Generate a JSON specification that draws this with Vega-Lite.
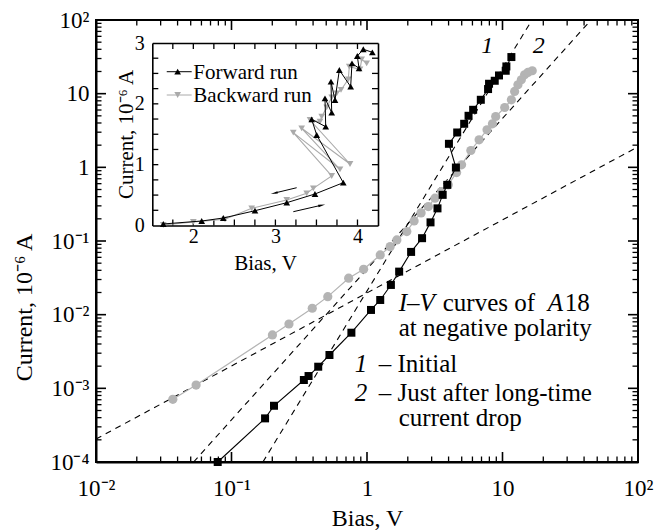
{
  "$schema": "https://vega.github.io/schema/vega-lite/v6.json",
  "width": 542,
  "height": 442,
  "autosize": "none",
  "padding": {"left": 96, "top": 20, "right": 21, "bottom": 70},
  "background": "white",
  "config": {
    "font": "Liberation Serif",
    "view": {"stroke": "black", "strokeWidth": 2},
    "axis": {"labelFont": "Liberation Serif", "titleFont": "Liberation Serif", "grid": false}
  },
  "datasets": {
    "xmaj": [{"v": 0.01}, {"v": 0.1}, {"v": 1}, {"v": 10}, {"v": 100}],
    "xmin": [{"v": 0.02}, {"v": 0.03}, {"v": 0.04}, {"v": 0.05}, {"v": 0.06}, {"v": 0.07}, {"v": 0.08}, {"v": 0.09},
             {"v": 0.2}, {"v": 0.3}, {"v": 0.4}, {"v": 0.5}, {"v": 0.6}, {"v": 0.7}, {"v": 0.8}, {"v": 0.9},
             {"v": 2}, {"v": 3}, {"v": 4}, {"v": 5}, {"v": 6}, {"v": 7}, {"v": 8}, {"v": 9},
             {"v": 20}, {"v": 30}, {"v": 40}, {"v": 50}, {"v": 60}, {"v": 70}, {"v": 80}, {"v": 90}],
    "ymaj": [{"v": 0.0001}, {"v": 0.001}, {"v": 0.01}, {"v": 0.1}, {"v": 1}, {"v": 10}, {"v": 100}],
    "ymin": [{"v": 0.0002}, {"v": 0.0003}, {"v": 0.0004}, {"v": 0.0005}, {"v": 0.0006}, {"v": 0.0007}, {"v": 0.0008}, {"v": 0.0009},
             {"v": 0.002}, {"v": 0.003}, {"v": 0.004}, {"v": 0.005}, {"v": 0.006}, {"v": 0.007}, {"v": 0.008}, {"v": 0.009},
             {"v": 0.02}, {"v": 0.03}, {"v": 0.04}, {"v": 0.05}, {"v": 0.06}, {"v": 0.07}, {"v": 0.08}, {"v": 0.09},
             {"v": 0.2}, {"v": 0.3}, {"v": 0.4}, {"v": 0.5}, {"v": 0.6}, {"v": 0.7}, {"v": 0.8}, {"v": 0.9},
             {"v": 2}, {"v": 3}, {"v": 4}, {"v": 5}, {"v": 6}, {"v": 7}, {"v": 8}, {"v": 9},
             {"v": 20}, {"v": 30}, {"v": 40}, {"v": 50}, {"v": 60}, {"v": 70}, {"v": 80}, {"v": 90}],
    "ixt": [{"v": 1.75}, {"v": 2}, {"v": 2.25}, {"v": 2.5}, {"v": 2.75}, {"v": 3}, {"v": 3.25}, {"v": 3.5}, {"v": 3.75}, {"v": 4}],
    "iyt": [{"v": 0.25}, {"v": 0.5}, {"v": 0.75}, {"v": 1}, {"v": 1.25}, {"v": 1.5}, {"v": 1.75}, {"v": 2}, {"v": 2.25}, {"v": 2.5}, {"v": 2.75}],
    "fits": [
      {"fit": "a", "bias": 0.01, "current": 0.000205}, {"fit": "a", "bias": 100, "current": 1.9},
      {"fit": "1", "bias": 0.1705, "current": 0.0001}, {"fit": "1", "bias": 16.5, "current": 100},
      {"fit": "2", "bias": 0.0525, "current": 0.0001}, {"fit": "2", "bias": 45, "current": 100}
    ],
    "initial": [
      {"bias": 0.0791, "current": 0.0001}, {"bias": 0.1769, "current": 0.000391}, {"bias": 0.2059, "current": 0.00058},
      {"bias": 0.342, "current": 0.001297}, {"bias": 0.3704, "current": 0.001469}, {"bias": 0.4365, "current": 0.001966},
      {"bias": 0.5284, "current": 0.002835}, {"bias": 0.767, "current": 0.00569}, {"bias": 1.07, "current": 0.01159},
      {"bias": 1.252, "current": 0.01583}, {"bias": 1.501, "current": 0.02532}, {"bias": 1.727, "current": 0.0384},
      {"bias": 2.116, "current": 0.0711}, {"bias": 2.549, "current": 0.1092}, {"bias": 2.943, "current": 0.179},
      {"bias": 3.313, "current": 0.2773}, {"bias": 3.618, "current": 0.423}, {"bias": 3.91, "current": 0.578},
      {"bias": 4.53, "current": 0.994}, {"bias": 4.024, "current": 2.086}, {"bias": 4.631, "current": 2.971},
      {"bias": 5.214, "current": 3.9}, {"bias": 5.616, "current": 5.008}, {"bias": 6.073, "current": 6.04},
      {"bias": 6.917, "current": 8.26}, {"bias": 7.825, "current": 11.55}, {"bias": 7.957, "current": 13.63},
      {"bias": 8.764, "current": 14.97}, {"bias": 9.425, "current": 17.67}, {"bias": 10.56, "current": 20.47},
      {"bias": 10.68, "current": 23.42}, {"bias": 11.63, "current": 31.4}
    ],
    "afterdrop": [
      {"bias": 0.0369, "current": 0.000709}, {"bias": 0.0548, "current": 0.001109}, {"bias": 0.2004, "current": 0.0053},
      {"bias": 0.2655, "current": 0.00747}, {"bias": 0.3945, "current": 0.01222}, {"bias": 0.5134, "current": 0.01757},
      {"bias": 0.7322, "current": 0.03124}, {"bias": 0.944, "current": 0.04137}, {"bias": 1.252, "current": 0.0647},
      {"bias": 1.483, "current": 0.0839}, {"bias": 1.661, "current": 0.1035}, {"bias": 1.967, "current": 0.1342},
      {"bias": 2.226, "current": 0.1875}, {"bias": 2.506, "current": 0.2408}, {"bias": 2.836, "current": 0.2934},
      {"bias": 3.175, "current": 0.3815}, {"bias": 3.557, "current": 0.469}, {"bias": 3.978, "current": 0.578},
      {"bias": 4.584, "current": 0.85}, {"bias": 4.989, "current": 1.081}, {"bias": 5.84, "current": 1.692},
      {"bias": 6.72, "current": 2.364}, {"bias": 7.69, "current": 3.232}, {"bias": 8.43, "current": 3.9},
      {"bias": 8.91, "current": 4.9}, {"bias": 10.38, "current": 6.49}, {"bias": 11.63, "current": 8.26},
      {"bias": 12.29, "current": 10.71}, {"bias": 13.0, "current": 13.21}, {"bias": 13.77, "current": 15.45},
      {"bias": 14.56, "current": 18.06}, {"bias": 15.4, "current": 19.41}, {"bias": 16.58, "current": 20.47}
    ],
    "forward": [
      {"bias": 1.634, "current": 0.025}, {"bias": 2.102, "current": 0.074}, {"bias": 2.365, "current": 0.123},
      {"bias": 2.751, "current": 0.243}, {"bias": 3.138, "current": 0.375}, {"bias": 3.482, "current": 0.518},
      {"bias": 3.827, "current": 0.704}, {"bias": 3.503, "current": 1.488}, {"bias": 3.442, "current": 1.746},
      {"bias": 3.613, "current": 1.624}, {"bias": 3.604, "current": 2.091}, {"bias": 3.686, "current": 1.854},
      {"bias": 3.677, "current": 2.364}, {"bias": 3.726, "current": 2.063}, {"bias": 3.779, "current": 2.556},
      {"bias": 3.917, "current": 2.282}, {"bias": 3.933, "current": 2.666}, {"bias": 4.019, "current": 2.584},
      {"bias": 3.998, "current": 2.786}, {"bias": 4.071, "current": 2.897}, {"bias": 4.181, "current": 2.847}
    ],
    "backward": [
      {"bias": 4.112, "current": 2.666}, {"bias": 4.051, "current": 2.732}, {"bias": 4.031, "current": 2.568},
      {"bias": 3.9, "current": 2.611}, {"bias": 3.888, "current": 2.403}, {"bias": 3.799, "current": 2.228},
      {"bias": 3.747, "current": 2.173}, {"bias": 3.686, "current": 2.107}, {"bias": 3.625, "current": 1.943},
      {"bias": 3.564, "current": 1.789}, {"bias": 3.543, "current": 1.706}, {"bias": 3.422, "current": 1.734},
      {"bias": 3.909, "current": 1.011}, {"bias": 3.32, "current": 1.598}, {"bias": 3.787, "current": 0.924},
      {"bias": 3.218, "current": 1.526}, {"bias": 3.686, "current": 0.814}, {"bias": 3.462, "current": 0.611},
      {"bias": 3.381, "current": 0.529}, {"bias": 3.138, "current": 0.419}, {"bias": 2.711, "current": 0.283},
      {"bias": 2.386, "current": 0.102}, {"bias": 2.0, "current": 0.058}, {"bias": 1.634, "current": 0.008}
    ],
    "one": [{}]
  },
  "layer": [
    {
      "data": {"name": "xmaj"},
      "mark": {"type": "tick", "orient": "vertical", "clip": true, "color": "black", "thickness": 1.6, "size": 20, "opacity": 1},
      "encoding": {"x": {"field": "v", "type": "quantitative", "scale": {"type": "log", "domain": [0.01, 100], "nice": false}, "axis": null}, "y": {"datum": 0.0001, "type": "quantitative", "scale": {"type": "log", "domain": [0.0001, 100], "nice": false}, "axis": null}}
    },
    {
      "data": {"name": "xmaj"},
      "mark": {"type": "tick", "orient": "vertical", "clip": true, "color": "black", "thickness": 1.6, "size": 20, "opacity": 1},
      "encoding": {"x": {"field": "v", "type": "quantitative", "scale": {"type": "log", "domain": [0.01, 100], "nice": false}, "axis": null}, "y": {"datum": 100, "type": "quantitative", "scale": {"type": "log", "domain": [0.0001, 100], "nice": false}, "axis": null}}
    },
    {
      "data": {"name": "xmin"},
      "mark": {"type": "tick", "orient": "vertical", "clip": true, "color": "black", "thickness": 1.3, "size": 11, "opacity": 1},
      "encoding": {"x": {"field": "v", "type": "quantitative", "scale": {"type": "log", "domain": [0.01, 100], "nice": false}, "axis": null}, "y": {"datum": 0.0001, "type": "quantitative", "scale": {"type": "log", "domain": [0.0001, 100], "nice": false}, "axis": null}}
    },
    {
      "data": {"name": "xmin"},
      "mark": {"type": "tick", "orient": "vertical", "clip": true, "color": "black", "thickness": 1.3, "size": 11, "opacity": 1},
      "encoding": {"x": {"field": "v", "type": "quantitative", "scale": {"type": "log", "domain": [0.01, 100], "nice": false}, "axis": null}, "y": {"datum": 100, "type": "quantitative", "scale": {"type": "log", "domain": [0.0001, 100], "nice": false}, "axis": null}}
    },
    {
      "data": {"name": "ymaj"},
      "mark": {"type": "tick", "orient": "horizontal", "clip": true, "color": "black", "thickness": 1.6, "size": 20, "opacity": 1},
      "encoding": {"y": {"field": "v", "type": "quantitative", "scale": {"type": "log", "domain": [0.0001, 100], "nice": false}, "axis": null}, "x": {"datum": 0.01, "type": "quantitative", "scale": {"type": "log", "domain": [0.01, 100], "nice": false}, "axis": null}}
    },
    {
      "data": {"name": "ymaj"},
      "mark": {"type": "tick", "orient": "horizontal", "clip": true, "color": "black", "thickness": 1.6, "size": 20, "opacity": 1},
      "encoding": {"y": {"field": "v", "type": "quantitative", "scale": {"type": "log", "domain": [0.0001, 100], "nice": false}, "axis": null}, "x": {"datum": 100, "type": "quantitative", "scale": {"type": "log", "domain": [0.01, 100], "nice": false}, "axis": null}}
    },
    {
      "data": {"name": "ymin"},
      "mark": {"type": "tick", "orient": "horizontal", "clip": true, "color": "black", "thickness": 1.3, "size": 11, "opacity": 1},
      "encoding": {"y": {"field": "v", "type": "quantitative", "scale": {"type": "log", "domain": [0.0001, 100], "nice": false}, "axis": null}, "x": {"datum": 0.01, "type": "quantitative", "scale": {"type": "log", "domain": [0.01, 100], "nice": false}, "axis": null}}
    },
    {
      "data": {"name": "ymin"},
      "mark": {"type": "tick", "orient": "horizontal", "clip": true, "color": "black", "thickness": 1.3, "size": 11, "opacity": 1},
      "encoding": {"y": {"field": "v", "type": "quantitative", "scale": {"type": "log", "domain": [0.0001, 100], "nice": false}, "axis": null}, "x": {"datum": 100, "type": "quantitative", "scale": {"type": "log", "domain": [0.01, 100], "nice": false}, "axis": null}}
    },
    {
      "data": {"name": "fits"},
      "mark": {"type": "line", "color": "black", "strokeWidth": 1.1, "strokeDash": [6, 5]},
      "encoding": {
        "x": {"field": "bias", "type": "quantitative", "scale": {"type": "log", "domain": [0.01, 100], "nice": false},
          "axis": {"orient": "bottom", "values": [0.01, 0.1, 1, 10, 100], "ticks": false, "domainColor": "black", "domainWidth": 2,
            "labelFontSize": 23, "labelColor": "black", "labelBaseline": "alphabetic", "labelPadding": 33, "labelFlush": false, "labelOverlap": false,
            "labelExpr": "datum.value < 0.05 ? '10⁻²' : datum.value < 0.5 ? '10⁻¹' : datum.value < 5 ? '1' : datum.value < 50 ? '10' : '10²'",
            "title": "Bias, V", "titleColor": "black", "titleFontWeight": "normal", "titleFontSize": 24, "titleX": 271, "titleY": 63, "titleBaseline": "alphabetic"}},
        "y": {"field": "current", "type": "quantitative", "scale": {"type": "log", "domain": [0.0001, 100], "nice": false},
          "axis": {"orient": "left", "values": [0.0001, 0.001, 0.01, 0.1, 1, 10, 100], "ticks": false, "domainColor": "black", "domainWidth": 2,
            "labelFontSize": 23, "labelColor": "black", "labelBaseline": "middle", "labelPadding": 7, "labelFlush": false, "labelOverlap": false,
            "labelExpr": "datum.value < 0.0005 ? '10⁻⁴' : datum.value < 0.005 ? '10⁻³' : datum.value < 0.05 ? '10⁻²' : datum.value < 0.5 ? '10⁻¹' : datum.value < 5 ? '1' : datum.value < 50 ? '10' : '10²'",
            "title": "Current, 10⁻⁶ A", "titleColor": "black", "titleFontWeight": "normal", "titleFontSize": 24, "titleX": -65, "titleY": 287, "titleBaseline": "alphabetic"}},
        "detail": {"field": "fit"}
      }
    },
    {
      "data": {"name": "afterdrop"},
      "mark": {"type": "line", "color": "#b4b4b4", "strokeWidth": 1.2},
      "encoding": {
        "x": {"field": "bias", "type": "quantitative", "scale": {"type": "log", "domain": [0.01, 100], "nice": false}, "axis": null},
        "y": {"field": "current", "type": "quantitative", "scale": {"type": "log", "domain": [0.0001, 100], "nice": false}, "axis": null},
        "order": {"value": null}
      }
    },
    {
      "data": {"name": "afterdrop"},
      "mark": {"type": "point", "shape": "circle", "filled": true, "color": "#b4b4b4", "opacity": 1, "size": 85},
      "encoding": {
        "x": {"field": "bias", "type": "quantitative", "scale": {"type": "log", "domain": [0.01, 100], "nice": false}, "axis": null},
        "y": {"field": "current", "type": "quantitative", "scale": {"type": "log", "domain": [0.0001, 100], "nice": false}, "axis": null}
      }
    },
    {
      "data": {"name": "initial"},
      "mark": {"type": "line", "color": "black", "strokeWidth": 1.1},
      "encoding": {
        "x": {"field": "bias", "type": "quantitative", "scale": {"type": "log", "domain": [0.01, 100], "nice": false}, "axis": null},
        "y": {"field": "current", "type": "quantitative", "scale": {"type": "log", "domain": [0.0001, 100], "nice": false}, "axis": null},
        "order": {"value": null}
      }
    },
    {
      "data": {"name": "initial"},
      "mark": {"type": "point", "shape": "square", "filled": true, "color": "black", "opacity": 1, "size": 64},
      "encoding": {
        "x": {"field": "bias", "type": "quantitative", "scale": {"type": "log", "domain": [0.01, 100], "nice": false}, "axis": null},
        "y": {"field": "current", "type": "quantitative", "scale": {"type": "log", "domain": [0.0001, 100], "nice": false}, "axis": null}
      }
    },
    {
      "data": {"name": "one"},
      "mark": {"type": "text", "text": "1", "font": "Liberation Serif", "fontStyle": "italic", "fontSize": 24, "align": "center", "baseline": "alphabetic", "color": "black"},
      "encoding": {"x": {"datum": 7.71, "type": "quantitative", "scale": {"type": "log", "domain": [0.01, 100], "nice": false}, "axis": null}, "y": {"datum": 35.6, "type": "quantitative", "scale": {"type": "log", "domain": [0.0001, 100], "nice": false}, "axis": null}}
    },
    {
      "data": {"name": "one"},
      "mark": {"type": "text", "text": "2", "font": "Liberation Serif", "fontStyle": "italic", "fontSize": 24, "align": "center", "baseline": "alphabetic", "color": "black"},
      "encoding": {"x": {"datum": 18.49, "type": "quantitative", "scale": {"type": "log", "domain": [0.01, 100], "nice": false}, "axis": null}, "y": {"datum": 35.6, "type": "quantitative", "scale": {"type": "log", "domain": [0.0001, 100], "nice": false}, "axis": null}}
    },
    {
      "data": {"name": "one"},
      "mark": {"type": "text", "text": "I–V", "font": "Liberation Serif", "fontStyle": "italic", "fontSize": 25, "align": "left", "baseline": "alphabetic", "color": "black"},
      "encoding": {"x": {"datum": 1.716, "type": "quantitative", "scale": {"type": "log", "domain": [0.01, 100], "nice": false}, "axis": null}, "y": {"datum": 0.01112, "type": "quantitative", "scale": {"type": "log", "domain": [0.0001, 100], "nice": false}, "axis": null}}
    },
    {
      "data": {"name": "one"},
      "mark": {"type": "text", "text": "curves of", "font": "Liberation Serif", "fontSize": 25, "align": "left", "baseline": "alphabetic", "color": "black"},
      "encoding": {"x": {"datum": 3.622, "type": "quantitative", "scale": {"type": "log", "domain": [0.01, 100], "nice": false}, "axis": null}, "y": {"datum": 0.01112, "type": "quantitative", "scale": {"type": "log", "domain": [0.0001, 100], "nice": false}, "axis": null}}
    },
    {
      "data": {"name": "one"},
      "mark": {"type": "text", "text": "A", "font": "Liberation Serif", "fontStyle": "italic", "fontSize": 25, "align": "left", "baseline": "alphabetic", "color": "black"},
      "encoding": {"x": {"datum": 21.54, "type": "quantitative", "scale": {"type": "log", "domain": [0.01, 100], "nice": false}, "axis": null}, "y": {"datum": 0.01112, "type": "quantitative", "scale": {"type": "log", "domain": [0.0001, 100], "nice": false}, "axis": null}}
    },
    {
      "data": {"name": "one"},
      "mark": {"type": "text", "text": "18", "font": "Liberation Serif", "fontSize": 25, "align": "left", "baseline": "alphabetic", "color": "black"},
      "encoding": {"x": {"datum": 28.75, "type": "quantitative", "scale": {"type": "log", "domain": [0.01, 100], "nice": false}, "axis": null}, "y": {"datum": 0.01112, "type": "quantitative", "scale": {"type": "log", "domain": [0.0001, 100], "nice": false}, "axis": null}}
    },
    {
      "data": {"name": "one"},
      "mark": {"type": "text", "text": "at negative polarity", "font": "Liberation Serif", "fontSize": 25, "align": "left", "baseline": "alphabetic", "color": "black"},
      "encoding": {"x": {"datum": 1.716, "type": "quantitative", "scale": {"type": "log", "domain": [0.01, 100], "nice": false}, "axis": null}, "y": {"datum": 0.005087, "type": "quantitative", "scale": {"type": "log", "domain": [0.0001, 100], "nice": false}, "axis": null}}
    },
    {
      "data": {"name": "one"},
      "mark": {"type": "text", "text": "1", "font": "Liberation Serif", "fontStyle": "italic", "fontSize": 25, "align": "left", "baseline": "alphabetic", "color": "black"},
      "encoding": {"x": {"datum": 0.8128, "type": "quantitative", "scale": {"type": "log", "domain": [0.01, 100], "nice": false}, "axis": null}, "y": {"datum": 0.00165, "type": "quantitative", "scale": {"type": "log", "domain": [0.0001, 100], "nice": false}, "axis": null}}
    },
    {
      "data": {"name": "one"},
      "mark": {"type": "text", "text": "– Initial", "font": "Liberation Serif", "fontSize": 25, "align": "left", "baseline": "alphabetic", "color": "black"},
      "encoding": {"x": {"datum": 1.222, "type": "quantitative", "scale": {"type": "log", "domain": [0.01, 100], "nice": false}, "axis": null}, "y": {"datum": 0.00165, "type": "quantitative", "scale": {"type": "log", "domain": [0.0001, 100], "nice": false}, "axis": null}}
    },
    {
      "data": {"name": "one"},
      "mark": {"type": "text", "text": "2", "font": "Liberation Serif", "fontStyle": "italic", "fontSize": 25, "align": "left", "baseline": "alphabetic", "color": "black"},
      "encoding": {"x": {"datum": 0.8128, "type": "quantitative", "scale": {"type": "log", "domain": [0.01, 100], "nice": false}, "axis": null}, "y": {"datum": 0.000666, "type": "quantitative", "scale": {"type": "log", "domain": [0.0001, 100], "nice": false}, "axis": null}}
    },
    {
      "data": {"name": "one"},
      "mark": {"type": "text", "text": "– Just after long-time", "font": "Liberation Serif", "fontSize": 25, "align": "left", "baseline": "alphabetic", "color": "black"},
      "encoding": {"x": {"datum": 1.222, "type": "quantitative", "scale": {"type": "log", "domain": [0.01, 100], "nice": false}, "axis": null}, "y": {"datum": 0.000666, "type": "quantitative", "scale": {"type": "log", "domain": [0.0001, 100], "nice": false}, "axis": null}}
    },
    {
      "data": {"name": "one"},
      "mark": {"type": "text", "text": "current drop", "font": "Liberation Serif", "fontSize": 25, "align": "left", "baseline": "alphabetic", "color": "black"},
      "encoding": {"x": {"datum": 1.716, "type": "quantitative", "scale": {"type": "log", "domain": [0.01, 100], "nice": false}, "axis": null}, "y": {"datum": 0.00031, "type": "quantitative", "scale": {"type": "log", "domain": [0.0001, 100], "nice": false}, "axis": null}}
    },
    {
      "data": {"name": "ixt"},
      "mark": {"type": "tick", "orient": "vertical", "color": "black", "thickness": 1.3, "size": 6, "opacity": 1},
      "encoding": {"x": {"field": "v", "type": "quantitative", "scale": {"domain": [1.5, 4.25], "range": [56.3, 282], "nice": false, "zero": false}, "axis": null}, "y": {"datum": 0.0493, "type": "quantitative", "scale": {"domain": [0, 3], "range": [205.5, 23], "nice": false, "zero": false}, "axis": null}}
    },
    {
      "data": {"name": "ixt"},
      "mark": {"type": "tick", "orient": "vertical", "color": "black", "thickness": 1.3, "size": 6, "opacity": 1},
      "encoding": {"x": {"field": "v", "type": "quantitative", "scale": {"domain": [1.5, 4.25], "range": [56.3, 282], "nice": false, "zero": false}, "axis": null}, "y": {"datum": 2.9507, "type": "quantitative", "scale": {"domain": [0, 3], "range": [205.5, 23], "nice": false, "zero": false}, "axis": null}}
    },
    {
      "data": {"name": "iyt"},
      "mark": {"type": "tick", "orient": "horizontal", "color": "black", "thickness": 1.3, "size": 6, "opacity": 1},
      "encoding": {"y": {"field": "v", "type": "quantitative", "scale": {"domain": [0, 3], "range": [205.5, 23], "nice": false, "zero": false}, "axis": null}, "x": {"datum": 1.5366, "type": "quantitative", "scale": {"domain": [1.5, 4.25], "range": [56.3, 282], "nice": false, "zero": false}, "axis": null}}
    },
    {
      "data": {"name": "iyt"},
      "mark": {"type": "tick", "orient": "horizontal", "color": "black", "thickness": 1.3, "size": 6, "opacity": 1},
      "encoding": {"y": {"field": "v", "type": "quantitative", "scale": {"domain": [0, 3], "range": [205.5, 23], "nice": false, "zero": false}, "axis": null}, "x": {"datum": 4.2134, "type": "quantitative", "scale": {"domain": [1.5, 4.25], "range": [56.3, 282], "nice": false, "zero": false}, "axis": null}}
    },
    {
      "data": {"name": "backward"},
      "mark": {"type": "line", "color": "#aaaaaa", "strokeWidth": 1.1},
      "encoding": {
        "x": {"field": "bias", "type": "quantitative", "scale": {"domain": [1.5, 4.25], "range": [56.3, 282], "nice": false, "zero": false},
          "axis": {"orient": "top", "offset": -23, "ticks": false, "domainColor": "black", "domainWidth": 1.6, "labels": false, "title": null}},
        "y": {"field": "current", "type": "quantitative", "scale": {"domain": [0, 3], "range": [205.5, 23], "nice": false, "zero": false},
          "axis": {"orient": "right", "offset": -260, "ticks": false, "domainColor": "black", "domainWidth": 1.6, "labels": false, "title": null}},
        "order": {"value": null}
      }
    },
    {
      "data": {"name": "backward"},
      "mark": {"type": "point", "shape": "triangle-down", "filled": true, "color": "#aaaaaa", "opacity": 1, "size": 45},
      "encoding": {
        "x": {"field": "bias", "type": "quantitative", "scale": {"domain": [1.5, 4.25], "range": [56.3, 282], "nice": false, "zero": false}, "axis": null},
        "y": {"field": "current", "type": "quantitative", "scale": {"domain": [0, 3], "range": [205.5, 23], "nice": false, "zero": false}, "axis": null}
      }
    },
    {
      "data": {"name": "forward"},
      "mark": {"type": "line", "color": "black", "strokeWidth": 1},
      "encoding": {
        "x": {"field": "bias", "type": "quantitative", "scale": {"domain": [1.5, 4.25], "range": [56.3, 282], "nice": false, "zero": false},
          "axis": {"orient": "bottom", "offset": -236.5, "values": [2, 3, 4], "ticks": false, "domainColor": "black", "domainWidth": 1.6,
            "labelFontSize": 20, "labelColor": "black", "labelBaseline": "alphabetic", "labelPadding": 17, "labelFlush": false, "labelOverlap": false, "format": "d",
            "title": "Bias, V", "titleColor": "black", "titleFontWeight": "normal", "titleFontSize": 21, "titleX": 169, "titleY": 43.5, "titleBaseline": "alphabetic"}},
        "y": {"field": "current", "type": "quantitative", "scale": {"domain": [0, 3], "range": [205.5, 23], "nice": false, "zero": false},
          "axis": {"orient": "left", "offset": -56.3, "values": [0, 1, 2, 3], "ticks": false, "domainColor": "black", "domainWidth": 1.6,
            "labelFontSize": 20, "labelColor": "black", "labelBaseline": "middle", "labelPadding": 8, "labelFlush": false, "labelOverlap": false, "format": "d",
            "title": "Current, 10⁻⁶ A", "titleColor": "black", "titleFontWeight": "normal", "titleFontSize": 21, "titleX": -20.3, "titleY": 114, "titleBaseline": "alphabetic"}},
        "order": {"value": null}
      }
    },
    {
      "data": {"name": "forward"},
      "mark": {"type": "point", "shape": "triangle-up", "filled": true, "color": "black", "opacity": 1, "size": 45},
      "encoding": {
        "x": {"field": "bias", "type": "quantitative", "scale": {"domain": [1.5, 4.25], "range": [56.3, 282], "nice": false, "zero": false}, "axis": null},
        "y": {"field": "current", "type": "quantitative", "scale": {"domain": [0, 3], "range": [205.5, 23], "nice": false, "zero": false}, "axis": null}
      }
    },
    {
      "data": {"name": "one"},
      "mark": {"type": "rule", "color": "black", "strokeWidth": 1},
      "encoding": {"x": {"datum": 3.259, "type": "quantitative", "scale": {"domain": [1.5, 4.25], "range": [56.3, 282], "nice": false, "zero": false}, "axis": null}, "x2": {"datum": 3.0}, "y": {"datum": 0.621, "type": "quantitative", "scale": {"domain": [0, 3], "range": [205.5, 23], "nice": false, "zero": false}, "axis": null}, "y2": {"datum": 0.537}}
    },
    {
      "data": {"name": "one"},
      "mark": {"type": "point", "shape": "M-1,-0.35L1,0L-1,0.35Z", "angle": 167.4, "filled": true, "color": "black", "opacity": 1, "size": 50},
      "encoding": {"x": {"datum": 2.985, "type": "quantitative", "scale": {"domain": [1.5, 4.25], "range": [56.3, 282], "nice": false, "zero": false}, "axis": null}, "y": {"datum": 0.532, "type": "quantitative", "scale": {"domain": [0, 3], "range": [205.5, 23], "nice": false, "zero": false}, "axis": null}}
    },
    {
      "data": {"name": "one"},
      "mark": {"type": "rule", "color": "black", "strokeWidth": 1},
      "encoding": {"x": {"datum": 3.218, "type": "quantitative", "scale": {"domain": [1.5, 4.25], "range": [56.3, 282], "nice": false, "zero": false}, "axis": null}, "x2": {"datum": 3.55}, "y": {"datum": 0.227, "type": "quantitative", "scale": {"domain": [0, 3], "range": [205.5, 23], "nice": false, "zero": false}, "axis": null}, "y2": {"datum": 0.33}}
    },
    {
      "data": {"name": "one"},
      "mark": {"type": "point", "shape": "M-1,-0.35L1,0L-1,0.35Z", "angle": -12.6, "filled": true, "color": "black", "opacity": 1, "size": 50},
      "encoding": {"x": {"datum": 3.565, "type": "quantitative", "scale": {"domain": [1.5, 4.25], "range": [56.3, 282], "nice": false, "zero": false}, "axis": null}, "y": {"datum": 0.334, "type": "quantitative", "scale": {"domain": [0, 3], "range": [205.5, 23], "nice": false, "zero": false}, "axis": null}}
    },
    {
      "data": {"name": "one"},
      "mark": {"type": "rule", "color": "black", "strokeWidth": 1},
      "encoding": {"x": {"datum": 1.676, "type": "quantitative", "scale": {"domain": [1.5, 4.25], "range": [56.3, 282], "nice": false, "zero": false}, "axis": null}, "x2": {"datum": 1.98}, "y": {"datum": 2.528, "type": "quantitative", "scale": {"domain": [0, 3], "range": [205.5, 23], "nice": false, "zero": false}, "axis": null}}
    },
    {
      "data": {"name": "one"},
      "mark": {"type": "point", "shape": "triangle-up", "filled": true, "color": "black", "opacity": 1, "size": 45},
      "encoding": {"x": {"datum": 1.809, "type": "quantitative", "scale": {"domain": [1.5, 4.25], "range": [56.3, 282], "nice": false, "zero": false}, "axis": null}, "y": {"datum": 2.528, "type": "quantitative", "scale": {"domain": [0, 3], "range": [205.5, 23], "nice": false, "zero": false}, "axis": null}}
    },
    {
      "data": {"name": "one"},
      "mark": {"type": "text", "text": "Forward run", "font": "Liberation Serif", "fontSize": 21, "align": "left", "baseline": "middle", "color": "black"},
      "encoding": {"x": {"datum": 2.0, "type": "quantitative", "scale": {"domain": [1.5, 4.25], "range": [56.3, 282], "nice": false, "zero": false}, "axis": null}, "y": {"datum": 2.51, "type": "quantitative", "scale": {"domain": [0, 3], "range": [205.5, 23], "nice": false, "zero": false}, "axis": null}}
    },
    {
      "data": {"name": "one"},
      "mark": {"type": "rule", "color": "#aaaaaa", "strokeWidth": 1},
      "encoding": {"x": {"datum": 1.676, "type": "quantitative", "scale": {"domain": [1.5, 4.25], "range": [56.3, 282], "nice": false, "zero": false}, "axis": null}, "x2": {"datum": 1.98}, "y": {"datum": 2.145, "type": "quantitative", "scale": {"domain": [0, 3], "range": [205.5, 23], "nice": false, "zero": false}, "axis": null}}
    },
    {
      "data": {"name": "one"},
      "mark": {"type": "point", "shape": "triangle-down", "filled": true, "color": "#aaaaaa", "opacity": 1, "size": 45},
      "encoding": {"x": {"datum": 1.809, "type": "quantitative", "scale": {"domain": [1.5, 4.25], "range": [56.3, 282], "nice": false, "zero": false}, "axis": null}, "y": {"datum": 2.145, "type": "quantitative", "scale": {"domain": [0, 3], "range": [205.5, 23], "nice": false, "zero": false}, "axis": null}}
    },
    {
      "data": {"name": "one"},
      "mark": {"type": "text", "text": "Backward run", "font": "Liberation Serif", "fontSize": 21, "align": "left", "baseline": "middle", "color": "black"},
      "encoding": {"x": {"datum": 2.0, "type": "quantitative", "scale": {"domain": [1.5, 4.25], "range": [56.3, 282], "nice": false, "zero": false}, "axis": null}, "y": {"datum": 2.13, "type": "quantitative", "scale": {"domain": [0, 3], "range": [205.5, 23], "nice": false, "zero": false}, "axis": null}}
    }
  ],
  "resolve": {"scale": {"x": "independent", "y": "independent"}, "axis": {"x": "independent", "y": "independent"}}
}
